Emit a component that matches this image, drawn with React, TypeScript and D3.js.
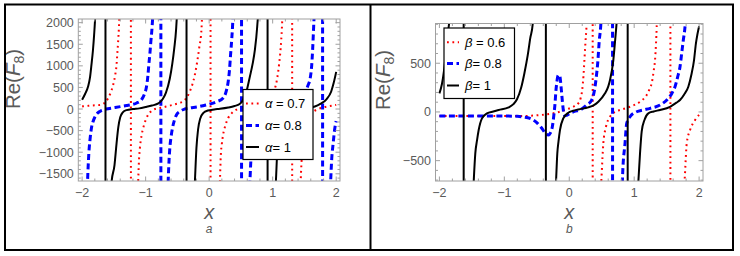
import React from 'react';
import * as d3 from 'd3';

type Pt = [number, number];

// tick values
const xTicks = [-2, -1, 0, 1, 2];
const leftYTicks = [-1500, -1000, -500, 0, 500, 1000, 1500, 2000];
const rightYTicks = [-500, 0, 500];

// panel a, alpha series (+-20000 marks the jump at a pole)
const alpha07: Pt[] = [
  [-2.0, 60], [-1.9, 75], [-1.8, 85], [-1.69, 100], [-1.64, 150], [-1.59, 254], [-1.55, 380], [-1.511, 561],
  [-1.48, 780], [-1.458, 1023], [-1.445, 1300], [-1.433, 1561], [-1.42, 1908], [-1.4, 2800], [-1.234, 20000],
  [-1.23, -20000], [-1.14, -2800], [-1.118, -1700], [-1.105, -1200], [-1.09, -900], [-1.065, -620], [-1.038, -439],
  [-1.0, -260], [-0.96, -132], [-0.91, -50], [-0.855, 0], [-0.776, 23], [-0.67, 60], [-0.567, 99], [-0.47, 140],
  [-0.409, 176], [-0.35, 270], [-0.304, 406], [-0.26, 590], [-0.225, 792], [-0.19, 1080], [-0.157, 1409],
  [-0.12, 1870], [-0.1, 2800], [0.02, 20000],
  [0.024, -20000], [0.14, -2800], [0.169, -1700], [0.184, -1055], [0.2, -800], [0.22, -594], [0.26, -360],
  [0.3, -208], [0.36, -90], [0.43, -16], [0.55, 30], [0.72, 99], [0.82, 150], [0.9, 210], [0.98, 300], [1.03, 450],
  [1.07, 700], [1.1, 1023], [1.125, 1400], [1.145, 1870], [1.17, 2800], [1.305, 20000],
  [1.309, -20000], [1.41, -2800], [1.44, -1700], [1.455, -1200], [1.475, -850], [1.5, -560], [1.53, -360],
  [1.57, -200], [1.62, -90], [1.7, -10], [1.8, 40], [1.9, 70], [2.0, 95],
];

const alpha08: Pt[] = [
  [-2.0, -8000], [-1.94, -3000], [-1.915, -1700], [-1.895, -1050], [-1.875, -700], [-1.853, -440], [-1.83, -300],
  [-1.8, -190], [-1.76, -100], [-1.72, -55], [-1.65, -15], [-1.59, 7], [-1.48, 35], [-1.38, 60], [-1.3, 80],
  [-1.222, 100], [-1.14, 140], [-1.065, 215], [-1.02, 340], [-0.986, 522], [-0.965, 760], [-0.95, 1023],
  [-0.932, 1300], [-0.918, 1561], [-0.898, 1908], [-0.87, 2800], [-0.762, 20000],
  [-0.758, -20000], [-0.67, -2800], [-0.646, -1700], [-0.63, -1150], [-0.619, -900], [-0.6, -650], [-0.577, -439],
  [-0.545, -250], [-0.513, -132], [-0.45, -45], [-0.383, 0], [-0.3, 25], [-0.198, 46], [-0.1, 75], [0.011, 115],
  [0.12, 170], [0.221, 254], [0.27, 420], [0.3, 637], [0.32, 900], [0.337, 1254], [0.355, 1600], [0.368, 1908],
  [0.39, 2800], [0.508, 20000],
  [0.512, -20000], [0.61, -2800], [0.641, -1700], [0.66, -1100], [0.68, -700], [0.71, -400], [0.76, -160],
  [0.83, -50], [0.9, 0], [1.0, 30], [1.1, 50], [1.2, 75], [1.3, 110], [1.4, 170], [1.47, 280], [1.52, 420],
  [1.56, 560], [1.589, 700], [1.614, 1000], [1.63, 1400], [1.645, 1900], [1.67, 2800], [1.784, 20000],
  [1.788, -20000], [1.88, -2800], [1.912, -1700], [1.93, -1150], [1.953, -785], [1.975, -480], [2.0, -280],
];

const alpha1: Pt[] = [
  [-2.0, 215], [-1.95, 360], [-1.906, 522], [-1.875, 740], [-1.853, 1023], [-1.83, 1350], [-1.811, 1716],
  [-1.79, 2250], [-1.76, 3600], [-1.634, 20000],
  [-1.63, -20000], [-1.56, -3200], [-1.537, -1700], [-1.49, -1300], [-1.458, -800], [-1.43, -420], [-1.4, -190],
  [-1.36, -80], [-1.3, -25], [-1.2, 0], [-1.1, 15], [-1.0, 45], [-0.9, 80], [-0.8, 130], [-0.73, 230],
  [-0.68, 380], [-0.62, 700], [-0.58, 1050], [-0.55, 1400], [-0.52, 1850], [-0.49, 2800], [-0.358, 20000],
  [-0.354, -20000], [-0.26, -2800], [-0.225, -1700], [-0.2, -900], [-0.175, -480], [-0.14, -220], [-0.09, -90],
  [-0.02, -35], [0.08, -10], [0.17, 5], [0.3, 35], [0.4, 70], [0.48, 115], [0.535, 215], [0.59, 420], [0.641, 750],
  [0.685, 1050], [0.72, 1370], [0.756, 1900], [0.79, 2800], [0.918, 20000],
  [0.922, -20000], [1.01, -2800], [1.05, -1700], [1.075, -900], [1.1, -480], [1.135, -220], [1.185, -90],
  [1.26, -35], [1.36, -10], [1.45, 5], [1.56, 30], [1.664, 60], [1.75, 120], [1.85, 230], [1.92, 400],
  [1.96, 600], [2.0, 860],
];

// panel b, beta series
const beta06: Pt[] = [
  [-2.0, -42], [-1.5, -42], [-1.0, -42], [-0.759, -42], [-0.45, -32], [-0.245, -14], [-0.143, 2], [-0.04, 26],
  [0.062, 53], [0.139, 88], [0.175, 140], [0.2, 230], [0.22, 380], [0.235, 550], [0.25, 720], [0.265, 875],
  [0.29, 1500], [0.359, 20000],
  [0.363, -20000], [0.46, -1300], [0.5, -630], [0.525, -322], [0.566, -152], [0.628, -49], [0.7, 0], [0.782, 20],
  [0.936, 53], [1.09, 105], [1.193, 174], [1.24, 240], [1.27, 294], [1.3, 420], [1.321, 533], [1.336, 700],
  [1.347, 875], [1.37, 1500], [1.556, 20000],
  [1.56, -20000], [1.74, -1300], [1.783, -630], [1.81, -322], [1.861, -186], [1.938, -83], [2.0, -30],
];

const beta08: Pt[] = [
  [-2.0, -42], [-1.5, -42], [-1.0, -42], [-0.8, -45], [-0.7, -52], [-0.605, -66], [-0.5, -110], [-0.42, -170],
  [-0.36, -225], [-0.32, -237], [-0.29, -215], [-0.26, -150], [-0.235, -20], [-0.219, 88], [-0.205, 220],
  [-0.193, 294], [-0.175, 370], [-0.16, 380], [-0.143, 361], [-0.125, 250], [-0.117, 191], [-0.1, 70],
  [-0.085, -10], [-0.065, -40], [-0.04, -35], [0.012, -14], [0.08, 5], [0.166, 20], [0.268, 71], [0.345, 122],
  [0.375, 180], [0.397, 259], [0.42, 380], [0.438, 499], [0.463, 738], [0.484, 875], [0.52, 1500], [0.665, 20000],
  [0.669, -20000], [0.8, -1300], [0.823, -630], [0.859, -322], [0.885, -117], [0.936, -49], [1.039, 2],
  [1.14, 20], [1.244, 37], [1.398, 71], [1.526, 140], [1.58, 190], [1.629, 259], [1.67, 360], [1.706, 464],
  [1.735, 620], [1.757, 738], [1.783, 875], [1.83, 1500], [2.0, 8000],
];

const beta1: Pt[] = [
  [-2.0, 191], [-1.96, 290], [-1.93, 420], [-1.9, 600], [-1.87, 800], [-1.845, 950], [-1.8, 1500], [-1.628, 20000],
  [-1.624, -20000], [-1.51, -1300], [-1.472, -720], [-1.447, -425], [-1.42, -290], [-1.395, -186], [-1.344, -66],
  [-1.267, -14], [-1.17, 5], [-1.087, 20], [-0.933, 47], [-0.86, 80], [-0.805, 130], [-0.74, 250], [-0.69, 400],
  [-0.64, 580], [-0.6, 760], [-0.563, 900], [-0.52, 1500], [-0.362, 20000],
  [-0.358, -20000], [-0.25, -1300], [-0.204, -720], [-0.184, -425], [-0.165, -300], [-0.143, -186], [-0.092, -66],
  [-0.015, -8], [0.06, 12], [0.139, 26], [0.293, 47], [0.38, 70], [0.448, 105], [0.551, 191], [0.6, 260],
  [0.628, 327], [0.679, 533], [0.716, 807], [0.73, 920], [0.77, 1500], [0.898, 20000],
  [0.902, -20000], [1.02, -1300], [1.064, -720], [1.09, -425], [1.116, -200], [1.16, -80], [1.218, -14],
  [1.3, 5], [1.398, 20], [1.552, 53], [1.65, 95], [1.706, 122], [1.77, 180], [1.834, 259], [1.88, 380],
  [1.922, 533], [1.95, 700], [1.975, 800], [2.0, 880],
];

const alphaLabels = ['0.7', '0.8', '1'];
const betaLabels = ['0.6', '0.8', '1'];

const styles = [
  { stroke: '#ff0000', width: 2, dash: '1.8,3.6' },
  { stroke: '#0000ff', width: 3, dash: '6,3.5' },
  { stroke: '#000000', width: 2, dash: undefined as string | undefined },
];

const FONT = "'Liberation Sans', Arial, sans-serif";
const GREY = '#5a5a5a';
const fmt = (v: number) => (v < 0 ? '\u2212' + Math.abs(v) : String(v));

interface PanelProps {
  id: string;
  box: { x0: number; x1: number; y0: number; y1: number };
  yDomain: [number, number];
  yTicks: number[];
  series: Pt[][];
  symbol: string;
  labels: string[];
  legend: { x: number; y: number; w: number; h: number; rows: number[]; textX: number; lineX: [number, number] };
  caption: string;
  yLabel: { x: number; y: number };
}

function Panel({ id, box, yDomain, yTicks, series, symbol, labels, legend, caption, yLabel }: PanelProps) {
  const x = d3.scaleLinear().domain([-2.06, 2.06]).range([box.x0, box.x1]);
  const y = d3.scaleLinear().domain(yDomain).range([box.y1, box.y0]);
  const line = d3.line<Pt>().x(d => x(d[0])).y(d => y(d[1])).curve(d3.curveMonotoneX);

  const xMinor = d3.range(-2, 2.001, 0.2).map(v => Math.round(v * 10) / 10).filter(v => !xTicks.includes(v));
  const yMinor = d3.range(Math.ceil(yDomain[0] / 100) * 100, yDomain[1], 100).filter(v => v % 500 !== 0);
  const cx = (box.x0 + box.x1) / 2;

  return (
    <g>
      <defs>
        <clipPath id={id}>
          <rect x={box.x0} y={box.y0} width={box.x1 - box.x0} height={box.y1 - box.y0} />
        </clipPath>
      </defs>
      <g clipPath={`url(#${id})`}>
        {series.map((pts, i) => (
          <path key={i} d={line(pts) || ''} fill="none" stroke={styles[i].stroke}
            strokeWidth={styles[i].width} strokeDasharray={styles[i].dash} />
        ))}
      </g>
      <rect x={box.x0} y={box.y0} width={box.x1 - box.x0} height={box.y1 - box.y0}
        fill="none" stroke="#a0a0a0" strokeWidth={1} />
      {/* frame ticks on all four sides */}
      <g stroke="#a0a0a0" strokeWidth={1}>
        {xTicks.map(v => (
          <g key={'xt' + v}>
            <line x1={x(v)} x2={x(v)} y1={box.y1} y2={box.y1 - 4.5} />
            <line x1={x(v)} x2={x(v)} y1={box.y0} y2={box.y0 + 4.5} />
          </g>
        ))}
        {xMinor.map(v => (
          <g key={'xm' + v}>
            <line x1={x(v)} x2={x(v)} y1={box.y1} y2={box.y1 - 2.5} />
            <line x1={x(v)} x2={x(v)} y1={box.y0} y2={box.y0 + 2.5} />
          </g>
        ))}
        {yTicks.map(v => (
          <g key={'yt' + v}>
            <line x1={box.x0} x2={box.x0 + 4.5} y1={y(v)} y2={y(v)} />
            <line x1={box.x1} x2={box.x1 - 4.5} y1={y(v)} y2={y(v)} />
          </g>
        ))}
        {yMinor.map(v => (
          <g key={'ym' + v}>
            <line x1={box.x0} x2={box.x0 + 2.5} y1={y(v)} y2={y(v)} />
            <line x1={box.x1} x2={box.x1 - 2.5} y1={y(v)} y2={y(v)} />
          </g>
        ))}
      </g>
      <g fontFamily={FONT} fontSize={12.5} fill={GREY}>
        {xTicks.map(v => (
          <text key={'xl' + v} x={x(v)} y={box.y1 + 15.5} textAnchor="middle">{fmt(v)}</text>
        ))}
        {yTicks.map(v => (
          <text key={'yl' + v} x={box.x0 - 4.5} y={y(v) + 4.5} textAnchor="end">{fmt(v)}</text>
        ))}
      </g>
      <text x={cx} y={218.5} textAnchor="middle" fontFamily={FONT} fontStyle="italic" fontSize={20} fill={GREY}>x</text>
      <text x={cx} y={232.5} textAnchor="middle" fontFamily={FONT} fontStyle="italic" fontSize={12} fill={GREY}>{caption}</text>
      <text transform={`translate(${yLabel.x},${yLabel.y}) rotate(-90)`} textAnchor="middle"
        fontFamily={FONT} fontSize={20.5} fill={GREY}>
        Re(<tspan fontStyle="italic">F</tspan><tspan fontSize={14} dy={4}>8</tspan><tspan dy={-4}>)</tspan>
      </text>
      {/* legend */}
      <rect x={legend.x} y={legend.y} width={legend.w} height={legend.h} fill="#fff" stroke="#000" strokeWidth={1.2} />
      {labels.map((lab, i) => (
        <g key={'lg' + i}>
          <line x1={legend.lineX[0]} x2={legend.lineX[1]} y1={legend.rows[i]} y2={legend.rows[i]}
            stroke={styles[i].stroke} strokeWidth={styles[i].width} strokeDasharray={styles[i].dash} />
          <text x={legend.textX} y={legend.rows[i] + 4.5} fontFamily={FONT} fontSize={13} fill="#000">
            <tspan fontStyle="italic">{symbol}</tspan>{i === 0 ? ' = ' : '= '}{lab}
          </text>
        </g>
      ))}
    </g>
  );
}

export default function App() {
  return (
    <svg width={740} height={256} style={{ position: 'absolute', left: 0, top: 0, background: '#fff' }}>
      <rect x={0} y={0} width={740} height={256} fill="#fff" />
      <Panel
        id="clipA"
        box={{ x0: 78.3, x1: 340, y0: 19, y1: 181 }}
        yDomain={[-1667, 2085]}
        yTicks={leftYTicks}
        series={[alpha07, alpha08, alpha1]}
        symbol={'\u03b1'}
        labels={alphaLabels}
        legend={{ x: 243, y: 89.5, w: 70, h: 70, rows: [103.5, 125.5, 147], textX: 265, lineX: [246, 259] }}
        caption="a"
        yLabel={{ x: 20, y: 79 }}
      />
      <Panel
        id="clipB"
        box={{ x0: 435.5, x1: 703, y0: 23.5, y1: 181 }}
        yDomain={[-709, 908]}
        yTicks={rightYTicks}
        series={[beta06, beta08, beta1]}
        symbol={'\u03b2'}
        labels={betaLabels}
        legend={{ x: 444, y: 28, w: 70.5, h: 70.5, rows: [42.3, 63.5, 85.5], textX: 465, lineX: [447, 459] }}
        caption="b"
        yLabel={{ x: 390, y: 80 }}
      />
      <rect x={5} y={4.5} width={728} height={245.5} fill="none" stroke="#000" strokeWidth={2} />
      <line x1={370.5} x2={370.5} y1={4.5} y2={250} stroke="#000" strokeWidth={2} />
    </svg>
  );
}
